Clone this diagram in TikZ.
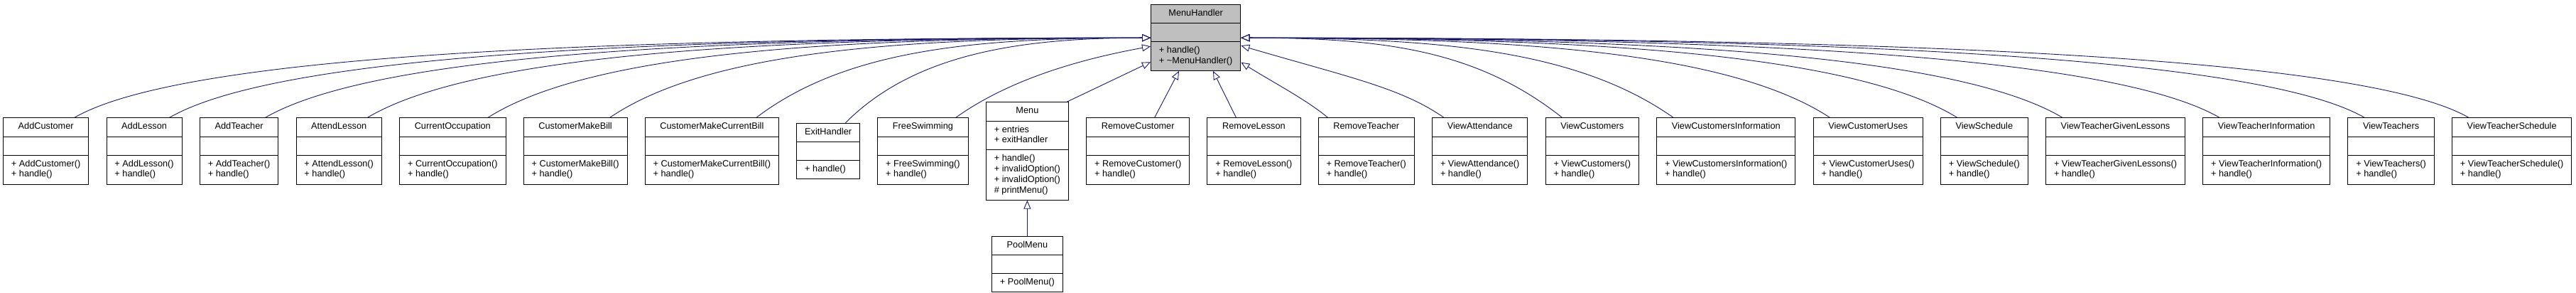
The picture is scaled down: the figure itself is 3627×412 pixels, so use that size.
\documentclass[tikz,border=0pt]{standalone}
\usepackage{fontspec}
\setmainfont{Liberation Sans}
\usetikzlibrary{shapes.multipart,positioning,calc,arrows.meta}
\definecolor{edgec}{HTML}{191970}
\definecolor{mhgrey}{HTML}{BFBFBF}
\newcommand\cfont{\fontsize{12.75pt}{14.7pt}\selectfont}
\newcommand\ml[1]{\begin{tabular}{@{}l@{}}#1\end{tabular}}
\newcommand\clsbody[3]{\cfont#1\strut\nodepart{second}\cfont#2\strut\nodepart{third}\cfont#3}
\tikzset{
  cls/.style={rectangle split, rectangle split parts=3, draw=black, line width=0.9pt,
    fill=white, inner xsep=11.5pt, inner ysep=5.3pt,
    rectangle split part align={center,left,left}, font=\cfont},
  gen/.style={draw=edgec, line width=0.9pt, -{Triangle[length=12pt,width=10pt,fill=white]}},
  gap/.style={right=24.2pt of #1},
}
\begin{document}
\begin{tikzpicture}[x=1pt,y=-1pt]
\useasboundingbox (0,0) rectangle (3627,412);
% parent
\node[cls, fill=mhgrey, anchor=north west] (mh) at (1620,5.7)
  {\clsbody{MenuHandler}{}{\ml{+ handle()\\+ \textasciitilde MenuHandler()}}};
% children
\node[cls, anchor=west] (c1) at (4,212.5) {\clsbody{AddCustomer}{}{\ml{+ AddCustomer()\\+ handle()}}};
\node[cls, gap=c1] (c2) {\clsbody{AddLesson}{}{\ml{+ AddLesson()\\+ handle()}}};
\node[cls, gap=c2] (c3) {\clsbody{AddTeacher}{}{\ml{+ AddTeacher()\\+ handle()}}};
\node[cls, gap=c3] (c4) {\clsbody{AttendLesson}{}{\ml{+ AttendLesson()\\+ handle()}}};
\node[cls, gap=c4] (c5) {\clsbody{CurrentOccupation}{}{\ml{+ CurrentOccupation()\\+ handle()}}};
\node[cls, gap=c5] (c6) {\clsbody{CustomerMakeBill}{}{\ml{+ CustomerMakeBill()\\+ handle()}}};
\node[cls, gap=c6] (c7) {\clsbody{CustomerMakeCurrentBill}{}{\ml{+ CustomerMakeCurrentBill()\\+ handle()}}};
\node[cls, gap=c7] (c8) {\clsbody{ExitHandler}{}{\ml{+ handle()}}};
\node[cls, gap=c8] (c9) {\clsbody{FreeSwimming}{}{\ml{+ FreeSwimming()\\+ handle()}}};
\node[cls, gap=c9] (c10) {\clsbody{Menu}{\ml{+ entries\\+ exitHandler}}{\ml{+ handle()\\+ invalidOption()\\+ invalidOption()\\\# printMenu()}}};
\node[cls, gap=c10] (c11) {\clsbody{RemoveCustomer}{}{\ml{+ RemoveCustomer()\\+ handle()}}};
\node[cls, gap=c11] (c12) {\clsbody{RemoveLesson}{}{\ml{+ RemoveLesson()\\+ handle()}}};
\node[cls, gap=c12] (c13) {\clsbody{RemoveTeacher}{}{\ml{+ RemoveTeacher()\\+ handle()}}};
\node[cls, gap=c13] (c14) {\clsbody{ViewAttendance}{}{\ml{+ ViewAttendance()\\+ handle()}}};
\node[cls, gap=c14] (c15) {\clsbody{ViewCustomers}{}{\ml{+ ViewCustomers()\\+ handle()}}};
\node[cls, gap=c15] (c16) {\clsbody{ViewCustomersInformation}{}{\ml{+ ViewCustomersInformation()\\+ handle()}}};
\node[cls, gap=c16] (c17) {\clsbody{ViewCustomerUses}{}{\ml{+ ViewCustomerUses()\\+ handle()}}};
\node[cls, gap=c17] (c18) {\clsbody{ViewSchedule}{}{\ml{+ ViewSchedule()\\+ handle()}}};
\node[cls, gap=c18] (c19) {\clsbody{ViewTeacherGivenLessons}{}{\ml{+ ViewTeacherGivenLessons()\\+ handle()}}};
\node[cls, gap=c19] (c20) {\clsbody{ViewTeacherInformation}{}{\ml{+ ViewTeacherInformation()\\+ handle()}}};
\node[cls, gap=c20] (c21) {\clsbody{ViewTeachers}{}{\ml{+ ViewTeachers()\\+ handle()}}};
\node[cls, gap=c21] (c22) {\clsbody{ViewTeacherSchedule}{}{\ml{+ ViewTeacherSchedule()\\+ handle()}}};
\node[cls, anchor=north] (pool) at ([yshift=-50pt]c10.south) {\clsbody{PoolMenu}{}{\ml{+ PoolMenu()}}};
% end points on the parent
\coordinate (eL)  at ([yshift=-47.5pt]mh.north west);
\coordinate (eL2) at ([yshift=-59.5pt]mh.north west);
\coordinate (eL3) at ([yshift=-81.5pt]mh.north west);
\coordinate (eB1) at ([xshift=40pt]mh.south west);
\coordinate (eB2) at ([xshift=88pt]mh.south west);
\coordinate (eR)  at ([yshift=-47.5pt]mh.north east);
\coordinate (eR2) at ([yshift=-58.5pt]mh.north east);
\coordinate (eR3) at ([yshift=-82pt]mh.north east);
% start points on the children
\foreach \i in {1,...,7} {\coordinate (s\i) at ($(c\i.north west)!0.83!(c\i.north east)$);}
\coordinate (s8) at ($(c8.north west)!0.77!(c8.north east)$);
\coordinate (s9) at ($(c9.north west)!0.86!(c9.north east)$);
\coordinate (s10) at ([xshift=-3pt]c10.north east);
\coordinate (s11) at ($(c11.north west)!0.66!(c11.north east)$);
\coordinate (s12) at ([xshift=41pt]c12.north west);
\coordinate (s13) at ([xshift=14pt]c13.north west);
\coordinate (s14) at ([xshift=17pt]c14.north west);
\foreach \i in {15,...,22} {\coordinate (s\i) at ([xshift=24pt]c\i.north west);}
% generalisations
\draw[gen] (s1) .. controls +(165,-95) and +(-680,0) .. (eL);
\draw[gen] (s2) .. controls +(165,-95) and +(-620,0) .. (eL);
\draw[gen] (s3) .. controls +(165,-95) and +(-560,0) .. (eL);
\draw[gen] (s4) .. controls +(160,-95) and +(-495,0) .. (eL);
\draw[gen] (s5) .. controls +(150,-95) and +(-420,0) .. (eL);
\draw[gen] (s6) .. controls +(140,-95) and +(-340,0) .. (eL);
\draw[gen] (s7) .. controls +(125,-95) and +(-250,0) .. (eL);
\draw[gen] (s8) .. controls +(95,-95) and +(-190,0) .. (eL);
\draw[gen] (s9) .. controls +(70,-50) and +(-110,20) .. (eL2);
\draw[gen] (s10) -- (eL3);
\draw[gen] (s11) -- (eB1);
\draw[gen] (s12) -- (eB2);
\draw[gen] (s13) .. controls +(-30,-25) and +(45,28) .. (eR3);
\draw[gen] (s14) .. controls +(-60,-42) and +(150,44) .. (eR2);
\draw[gen] (s15) .. controls +(-120,-95) and +(200,0) .. (eR);
\draw[gen] (s16) .. controls +(-135,-95) and +(280,0) .. (eR);
\draw[gen] (s17) .. controls +(-145,-95) and +(375,0) .. (eR);
\draw[gen] (s18) .. controls +(-155,-95) and +(450,0) .. (eR);
\draw[gen] (s19) .. controls +(-160,-95) and +(525,0) .. (eR);
\draw[gen] (s20) .. controls +(-165,-95) and +(620,0) .. (eR);
\draw[gen] (s21) .. controls +(-165,-95) and +(710,0) .. (eR);
\draw[gen] (s22) .. controls +(-165,-95) and +(780,0) .. (eR);
\draw[gen] (pool.north) -- (c10.south);
\end{tikzpicture}
\end{document}
